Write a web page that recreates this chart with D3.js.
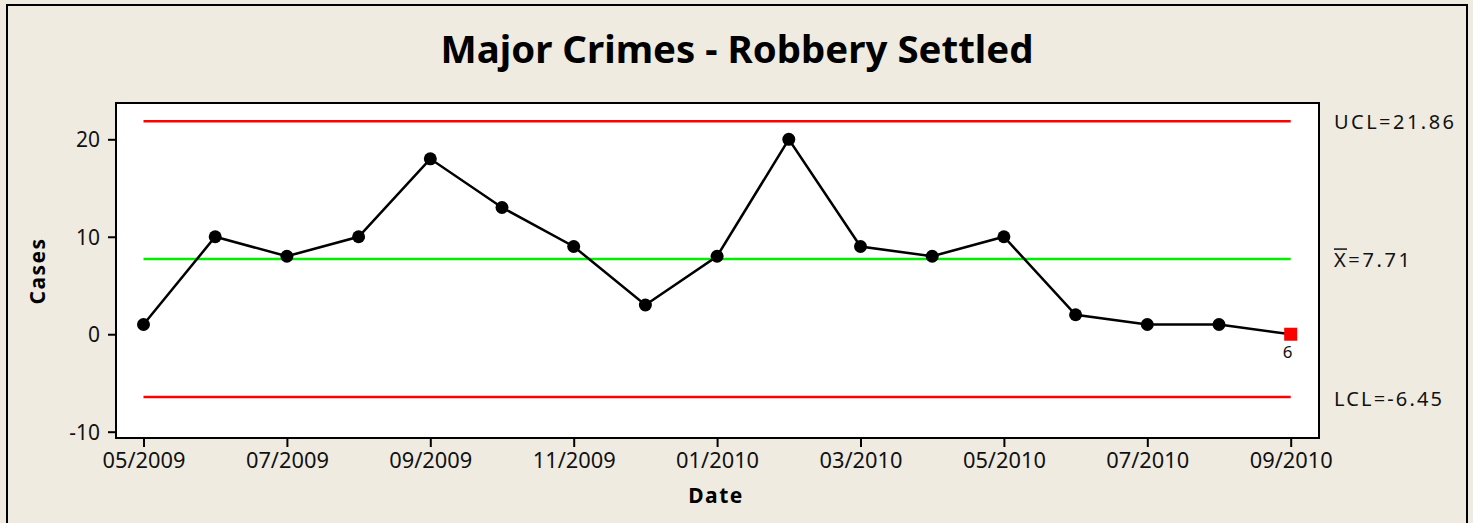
<!DOCTYPE html>
<html><head><meta charset="utf-8">
<script src="https://cdn.jsdelivr.net/npm/d3@7"></script>
<style>
html,body{margin:0;padding:0;background:#EFEBE1;}
svg{display:block;}
text{font-family:"Noto Sans","DejaVu Sans",sans-serif;}
</style></head>
<body>
<svg id="chart" width="1473" height="523"></svg>
<script>
const months = ["05/2009","06/2009","07/2009","08/2009","09/2009","10/2009","11/2009","12/2009","01/2010","02/2010","03/2010","04/2010","05/2010","06/2010","07/2010","08/2010","09/2010"];
const cases = [1,10,8,10,18,13,9,3,8,20,9,8,10,2,1,1,0];
const yTicks = [-10,0,10,20];
const UCL = 21.86, CL = 7.71, LCL = -6.45;
const flagged = [{index:16, label:"6"}];

const svg = d3.select("#chart");
svg.append("rect").attr("x",0).attr("y",0).attr("width",1473).attr("height",523).attr("fill","#EFEBE1");
svg.append("rect").attr("x",7).attr("y",5).attr("width",1460).attr("height",530)
  .attr("fill","none").attr("stroke","#000").attr("stroke-width",2);

const plot = {l:116, t:103, r:1319, b:438};
svg.append("rect").attr("x",plot.l).attr("y",plot.t).attr("width",plot.r-plot.l).attr("height",plot.b-plot.t)
  .attr("fill","#fff").attr("stroke","#000").attr("stroke-width",2);

const x = d3.scaleLinear().domain([0,16]).range([143.5,1290.7]);
const y = d3.scaleLinear().domain([-10,20]).range([431.7,139.3]);

// title
svg.append("text").attr("x",737).attr("y",63).attr("text-anchor","middle")
  .attr("font-size",37).attr("font-weight","bold").attr("textLength",593).attr("lengthAdjust","spacingAndGlyphs")
  .text("Major Crimes - Robbery Settled");

// y axis
const yAxis = d3.axisLeft(y).tickValues(yTicks).tickSize(8).tickPadding(8).tickFormat(d=>String(d));
const gy = svg.append("g").attr("transform",`translate(${plot.l},0)`).call(yAxis);
gy.select(".domain").remove();
gy.selectAll(".tick line").attr("stroke","#000").attr("stroke-width",2);
gy.selectAll(".tick text").attr("font-size",21).attr("fill","#111").attr("font-family","Noto Sans").attr("dy","0.35em");

// x axis
const idx = d3.range(0,months.length,2);
const xAxis = d3.axisBottom(x).tickValues(idx).tickSize(9).tickPadding(6).tickFormat(i=>months[i]);
const gx = svg.append("g").attr("transform",`translate(0,${plot.b})`).call(xAxis);
gx.select(".domain").remove();
gx.selectAll(".tick line").attr("stroke","#000").attr("stroke-width",2);
gx.selectAll(".tick text").attr("font-size",21).attr("fill","#111").attr("font-family","Noto Sans").attr("textLength",83).attr("lengthAdjust","spacingAndGlyphs");

// axis titles
svg.append("text").attr("x",716).attr("y",503).attr("text-anchor","middle")
  .attr("font-size",21).attr("font-weight","bold").attr("letter-spacing",1.5).text("Date");
svg.append("text").attr("transform","translate(45,271) rotate(-90)").attr("text-anchor","middle")
  .attr("font-size",21).attr("font-weight","bold").attr("letter-spacing",1.5).text("Cases");

// control lines
const limits = [{v:UCL,c:"#FF0000"},{v:CL,c:"#00EE00"},{v:LCL,c:"#FF0000"}];
svg.selectAll("line.ctl").data(limits).enter().append("line").attr("class","ctl")
  .attr("x1",x(0)).attr("x2",x(16)).attr("y1",d=>y(d.v)).attr("y2",d=>y(d.v))
  .attr("stroke",d=>d.c).attr("stroke-width",2.5);

// data line
svg.append("path").datum(cases)
  .attr("d",d3.line().x((d,i)=>x(i)).y(d=>y(d)))
  .attr("fill","none").attr("stroke","#000").attr("stroke-width",2.5);

const flagIdx = new Set(flagged.map(f=>f.index));
svg.selectAll("circle.pt").data(cases.map((v,i)=>({v,i})).filter(d=>!flagIdx.has(d.i)))
  .enter().append("circle").attr("class","pt")
  .attr("cx",d=>x(d.i)).attr("cy",d=>y(d.v)).attr("r",6.5).attr("fill","#000");

svg.selectAll("rect.flag").data(flagged).enter().append("rect").attr("class","flag")
  .attr("x",d=>x(d.index)-6.5).attr("y",d=>y(cases[d.index])-6.5).attr("width",13).attr("height",13).attr("fill","#FF0000");
svg.selectAll("text.flag").data(flagged).enter().append("text").attr("class","flag")
  .attr("x",d=>x(d.index)-3).attr("y",d=>y(cases[d.index])+24).attr("text-anchor","middle")
  .attr("font-size",17).attr("fill","#111").text(d=>d.label);

// right labels
const lx = 1334;
svg.append("text").attr("x",lx).attr("y",y(UCL)+8).attr("font-size",20).attr("textLength",120).attr("lengthAdjust","spacing").attr("fill","#111").text("UCL=21.86");
const xb = svg.append("text").attr("x",lx).attr("y",y(CL)+8).attr("font-size",20).attr("textLength",76).attr("lengthAdjust","spacing").attr("fill","#111");
xb.append("tspan").text("X");
xb.append("tspan").text("=7.71");
svg.append("line").attr("x1",lx).attr("x2",lx+13).attr("y1",y(CL)-10).attr("y2",y(CL)-10).attr("stroke","#111").attr("stroke-width",1.5);
svg.append("text").attr("x",lx).attr("y",y(LCL)+9).attr("font-size",20).attr("textLength",108).attr("lengthAdjust","spacing").attr("fill","#111").text("LCL=-6.45");
</script>
</body></html>
